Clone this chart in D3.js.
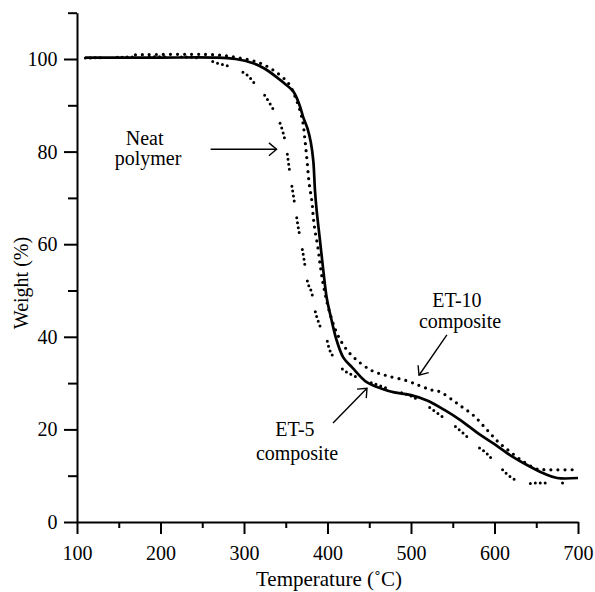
<!DOCTYPE html>
<html>
<head>
  <script type="text/javascript" src="https://d3js.org/d3.v7.min.js"></script>
  <style type="text/css">
  html, body {
    margin: 0px;
    background: #fff;
  }
  </style>
</head>
<body>
<script>
"use strict";

// Temperature (°C) / weight (%)
const ET5_T = [110, 200, 265, 290, 311, 325, 339, 350, 359, 366, 371, 376, 380, 383, 385, 387, 391, 395, 399, 405, 411, 419, 430, 447, 465, 480, 500, 520, 540, 560, 580, 600, 620, 640, 660, 675, 700];
const ET5_W = [100.3, 100.3, 100.3, 100.0, 99.1, 97.9, 96.1, 94.5, 93.0, 90.3, 87.4, 85.0, 82.0, 78.0, 71.6, 67.3, 60.8, 54.3, 48.5, 43.5, 39.2, 35.5, 33.3, 30.2, 28.8, 28.0, 27.4, 26.2, 24.2, 21.9, 19.2, 16.8, 14.3, 12.2, 10.4, 9.5, 9.5];

const ET10_T = [170, 265, 295, 318, 335, 353, 362, 370, 373, 375.5, 378, 381.5, 383, 385, 388.5, 391, 393.5, 397, 403, 411, 421, 433, 453, 471, 495, 511, 525, 535, 550, 560, 575, 591, 605, 620, 635, 650, 660, 700];
const ET10_W = [100.9, 100.9, 100.2, 99.2, 97.6, 94.8, 91.5, 86.8, 82.5, 78.1, 73.2, 69.0, 65.8, 63.0, 59.3, 55.8, 52.8, 49.4, 45.0, 40.9, 37.7, 35.3, 32.7, 31.6, 30.5, 29.4, 28.5, 28.1, 26.3, 25.0, 23.0, 19.9, 17.2, 15.0, 13.0, 11.5, 11.3, 11.3];

const NEAT_T = [110, 247, 268, 287, 304, 316, 323, 337, 344, 349, 351.5, 355, 360, 365, 370.7, 374, 376.6, 381, 385, 388.6, 393.4, 399.4, 403, 417.4, 436.5, 460, 481, 500, 520, 540, 552, 566, 580, 590, 598, 610, 618, 634, 650, 666, 687];
const NEAT_W = [100.2, 100.2, 99.1, 98.1, 96.5, 93.9, 92.6, 88.5, 85.7, 82.5, 79.9, 75.3, 69.5, 63.6, 58.0, 54.3, 51.5, 49.6, 45.7, 43.5, 41.3, 39.2, 37.0, 33.1, 31.2, 29.6, 28.3, 27.2, 25.0, 22.4, 20.8, 18.6, 16.3, 14.9, 13.4, 11.2, 9.9, 8.4, 8.4, 8.4, 8.4];

const X_TICKS = [100, 200, 300, 400, 500, 600, 700];
const X_MINOR = [150, 250, 350, 450, 550, 650];
const Y_TICKS = [0, 20, 40, 60, 80, 100];
const Y_MINOR = [10, 30, 50, 70, 90, 110];

// annotations: text lines [T, W, label] and arrows [T1, W1, T2, W2]
const LABELS = [
  [181, 81.4, "Neat"], [185, 77.0, "polymer"],
  [555, 46.5, "ET-10"], [558.7, 41.9, "composite"],
  [361, 18.6, "ET-5"], [363.5, 13.4, "composite"]
];
const ARROWS = [
  [260, 80.5, 339, 80.5],
  [543, 40.4, 509.6, 31.7],
  [406.6, 21.4, 447.3, 28.9]
];

const WIDTH = 595;
const HEIGHT = 592;
const FONT = 20;
const FAMILY = "\"Liberation Serif\"";

const svg = d3.select("body").append("svg")
  .attr("width", WIDTH)
  .attr("height", HEIGHT);

const x = d3.scaleLinear().domain([100, 700]).range([77, 578]);
const y = d3.scaleLinear().domain([0, 110]).range([522, 522 - 110 * 4.63]);

// axes: major ticks with labels, minor ticks without
function styleAxis(g) {
  g.attr("font-family", null).attr("font-size", null);
  g.selectAll("path.domain").attr("stroke-width", 2);
  g.selectAll(".tick line").attr("stroke-width", 2);
  g.selectAll(".tick text").style("font-family", FAMILY).style("font-size", FONT + "px");
}

svg.append("g")
  .attr("transform", `translate(0,${y(0)})`)
  .call(d3.axisBottom(x).tickValues(X_MINOR).tickSize(6).tickSizeOuter(0).tickFormat(""))
  .call(styleAxis);
svg.append("g")
  .attr("transform", `translate(0,${y(0)})`)
  .call(d3.axisBottom(x).tickValues(X_TICKS).tickSize(12).tickSizeOuter(0).tickPadding(12).tickFormat(d3.format("d")))
  .call(styleAxis)
  .call(g => g.select(".domain").remove());

svg.append("g")
  .attr("transform", `translate(${x(100)},0)`)
  .call(d3.axisLeft(y).tickValues(Y_MINOR).tickSize(9).tickSizeOuter(0).tickFormat(""))
  .call(styleAxis);
svg.append("g")
  .attr("transform", `translate(${x(100)},0)`)
  .call(d3.axisLeft(y).tickValues(Y_TICKS).tickSize(13).tickSizeOuter(0).tickPadding(6.5).tickFormat(d3.format("d")))
  .call(styleAxis)
  .call(g => g.select(".domain").remove());

svg.append("text")
  .attr("x", 329)
  .attr("y", 586)
  .attr("text-anchor", "middle")
  .style("font-family", FAMILY)
  .style("font-size", "21px")
  .text("Temperature (\u02DAC)");

svg.append("text")
  .attr("transform", "translate(28,283) rotate(-90)")
  .attr("text-anchor", "middle")
  .style("font-family", FAMILY)
  .style("font-size", FONT + "px")
  .text("Weight (%)");

// curves
const line = d3.line()
  .x(d => x(d[0]))
  .y(d => y(d[1]))
  .curve(d3.curveCatmullRom.alpha(0.5));

const neat = d3.zip(NEAT_T, NEAT_W);
const et10 = d3.zip(ET10_T, ET10_W);
const et5 = d3.zip(ET5_T, ET5_W);

svg.append("path")
  .datum(neat)
  .attr("d", line)
  .attr("fill", "none")
  .attr("stroke", "#000")
  .attr("stroke-width", 3)
  .attr("stroke-linecap", "round")
  .attr("stroke-dasharray", "0 5 0 5 0 5 0 17");

svg.append("path")
  .datum(et10)
  .attr("d", line)
  .attr("fill", "none")
  .attr("stroke", "#000")
  .attr("stroke-width", 3.2)
  .attr("stroke-linecap", "round")
  .attr("stroke-dasharray", "0 7");

svg.append("path")
  .datum(et5)
  .attr("d", line)
  .attr("fill", "none")
  .attr("stroke", "#000")
  .attr("stroke-width", 2.7);

// annotations
svg.selectAll("text.note")
  .data(LABELS)
  .join("text")
  .attr("class", "note")
  .attr("x", d => x(d[0]))
  .attr("y", d => y(d[1]))
  .attr("text-anchor", "middle")
  .style("font-family", FAMILY)
  .style("font-size", FONT + "px")
  .text(d => d[2]);

const arrows = svg.selectAll("g.arrow")
  .data(ARROWS)
  .join("g")
  .attr("class", "arrow")
  .attr("stroke", "#000")
  .attr("stroke-width", 1.4)
  .attr("fill", "none");

arrows.append("line")
  .attr("x1", d => x(d[0]))
  .attr("y1", d => y(d[1]))
  .attr("x2", d => x(d[2]))
  .attr("y2", d => y(d[3]));

arrows.append("path")
  .attr("d", d => {
    const x2 = x(d[2]), y2 = y(d[3]);
    const a = Math.atan2(y2 - y(d[1]), x2 - x(d[0]));
    const len = 10, spread = 0.7;
    const p1 = [x2 - len * Math.cos(a - spread), y2 - len * Math.sin(a - spread)];
    const p2 = [x2 - len * Math.cos(a + spread), y2 - len * Math.sin(a + spread)];
    return `M${p1[0]},${p1[1]}L${x2},${y2}L${p2[0]},${p2[1]}`;
  });
</script>
</body>
</html>
